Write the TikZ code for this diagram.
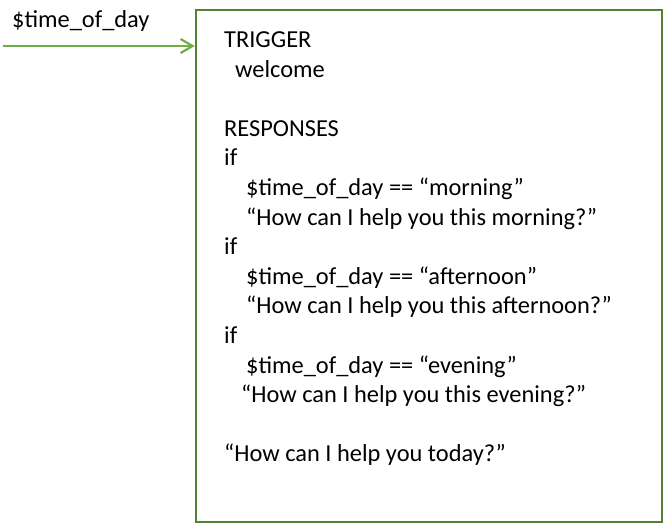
\documentclass[tikz,border=0pt]{standalone}
\usepackage{fontspec}
\setmainfont{Carlito}
\usetikzlibrary{arrows.meta}

\definecolor{rulegreen}{RGB}{84,130,53}
\definecolor{feedgreen}{RGB}{112,173,71}

\tikzset{
    panel/.style={draw=rulegreen, line width=2.4pt, minimum width=466pt, minimum height=512pt, inner sep=0pt},
    feed/.style={draw=feedgreen, line width=2.2pt, -{Straight Barb[length=12pt, width=14pt, line width=2.2pt]}},
    txt/.style={anchor=base west, inner sep=0pt, font=\fontsize{24.4}{29}\selectfont}
}

\begin{document}
\begin{tikzpicture}[x=1pt, y=-1pt]
                \useasboundingbox (0,0) rectangle (672,529);

                \node[panel] (rules) at (429,266) {};

                \coordinate (src) at (3,46);
                \node[txt] (var) at (12,27.5) {\$time\_of\_day};
                \draw[feed] (src) -- (rules.west |- src);

                \node[txt] (trig) at (224,47.5) {TRIGGER};
                \node[txt] (welcome) at (235,77.1) {welcome};

                \node[txt] (resp) at (224,136.3) {RESPONSES};

                \node[txt] (if1) at (224,165.9) {if};
                \node[txt] (cond1) at (246,195.5) {\$time\_of\_day == “morning”};
                \node[txt] (out1) at (246,225.1) {“How can I help you this morning?”};

                \node[txt] (if2) at (224,254.7) {if};
                \node[txt] (cond2) at (246,284.3) {\$time\_of\_day == “afternoon”};
                \node[txt] (out2) at (246,313.9) {“How can I help you this afternoon?”};

                \node[txt] (if3) at (224,343.5) {if};
                \node[txt] (cond3) at (246,373.1) {\$time\_of\_day == “evening”};
                \node[txt] (out3) at (241,402.7) {“How can I help you this evening?”};

                \node[txt] (dflt) at (224,461.9) {“How can I help you today?”};
\end{tikzpicture}
\end{document}
